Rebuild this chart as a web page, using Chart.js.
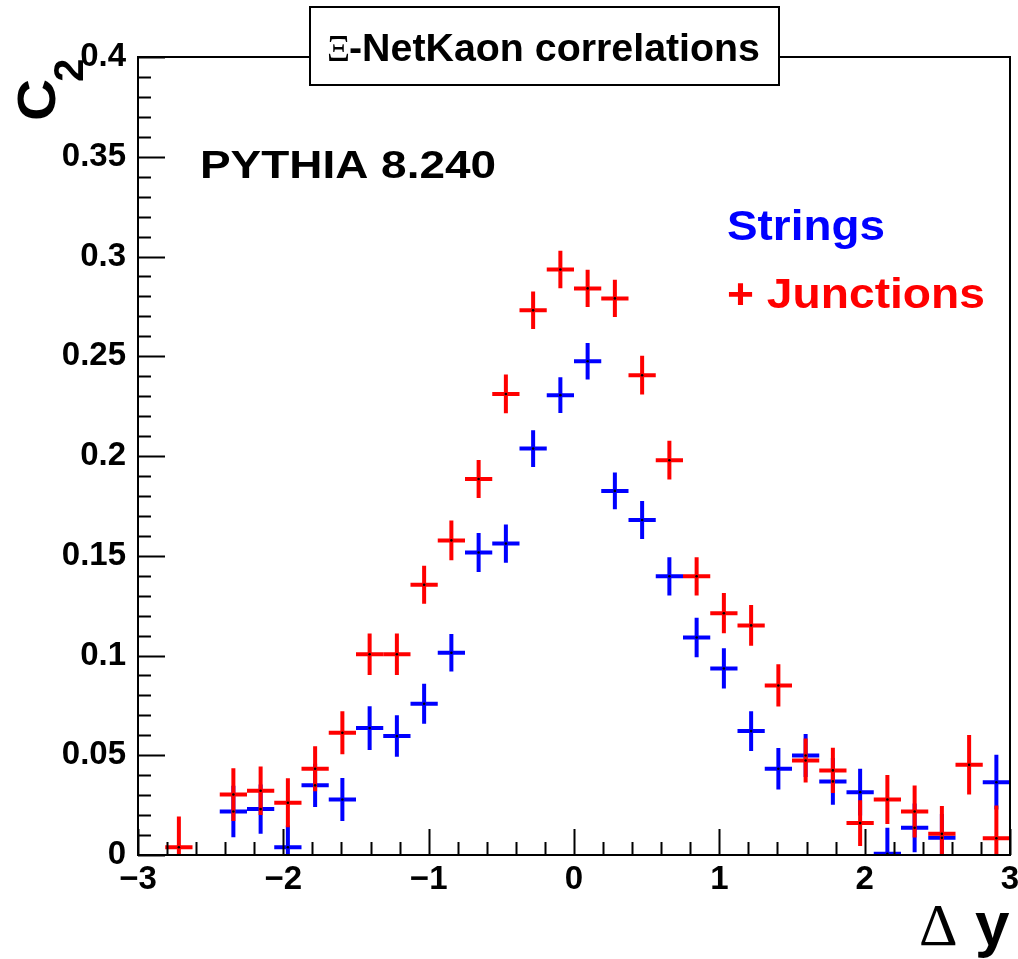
<!DOCTYPE html>
<html>
<head>
<meta charset="utf-8">
<title>Xi-NetKaon correlations</title>
<script src="https://cdn.jsdelivr.net/npm/chart.js@4.4.1/dist/chart.umd.min.js"></script>
<style>
    html, body { margin: 0; padding: 0; background: #fff; }
    canvas { display: block; }
</style>
</head>
<body>
<canvas id="c2Chart" width="1018" height="959"></canvas>
<script>
// Δy bin centres (32 bins between -3 and 3)
const binCenters = [
    -2.90625, -2.71875, -2.53125, -2.34375, -2.15625, -1.96875, -1.78125, -1.59375,
    -1.40625, -1.21875, -1.03125, -0.84375, -0.65625, -0.46875, -0.28125, -0.09375,
    0.09375, 0.28125, 0.46875, 0.65625, 0.84375, 1.03125, 1.21875, 1.40625,
    1.59375, 1.78125, 1.96875, 2.15625, 2.34375, 2.53125, 2.71875, 2.90625
];
const binHalfWidth = 0.09375;

// C2 for "Strings" (blue), null = empty bin
const stringsC2 = [
    null, null, null, 0.0218, 0.0230, 0.0039, 0.0349, 0.0278,
    0.0636, 0.0596, 0.0758, 0.1014, 0.1516, 0.1561, 0.2037, 0.2305,
    0.2475, 0.1825, 0.1679, 0.1397, 0.1090, 0.0935, 0.0621, 0.0432,
    0.0499, 0.0369, 0.0315, 0.0006, 0.0136, 0.0086, null, 0.0365
];
const stringsErr = [
    null, null, null, 0.0129, 0.0123, 0.0109, 0.0109, 0.0108,
    0.0110, 0.0104, 0.0100, 0.0094, 0.0098, 0.0096, 0.0092, 0.0090,
    0.0092, 0.0092, 0.0095, 0.0096, 0.0099, 0.0101, 0.0100, 0.0104,
    0.0108, 0.0117, 0.0117, 0.0130, 0.0122, 0.0120, null, 0.0137
];

// C2 for "Junctions" (red)
const junctionsC2 = [
    null, 0.0039, null, 0.0303, 0.0322, 0.0262, 0.0432, 0.0613,
    0.1006, 0.1006, 0.1355, 0.1577, 0.1885, 0.2311, 0.2730, 0.2935,
    0.2840, 0.2790, 0.2405, 0.1979, 0.1397, 0.1212, 0.1151, 0.0850,
    0.0474, 0.0424, 0.0160, 0.0278, 0.0218, 0.0106, 0.0452, 0.0084
];
const junctionsErr = [
    null, 0.0154, null, 0.0132, 0.0122, 0.0123, 0.0113, 0.0108,
    0.0104, 0.0104, 0.0095, 0.0100, 0.0095, 0.0097, 0.0094, 0.0094,
    0.0093, 0.0093, 0.0097, 0.0097, 0.0096, 0.0101, 0.0102, 0.0106,
    0.0110, 0.0113, 0.0115, 0.0123, 0.0130, 0.0139, 0.0149, 0.0164
];

const xTickValues = [-3, -2, -1, 0, 1, 2, 3];
const xTickLabels = ['\u22123', '\u22122', '\u22121', '0', '1', '2', '3'];
const yTickValues = [0, 0.05, 0.1, 0.15, 0.2, 0.25, 0.3, 0.35, 0.4];
const yTickLabels = ['0', '0.05', '0.1', '0.15', '0.2', '0.25', '0.3', '0.35', '0.4'];

const STRINGS_COLOR = '#0000ff';
const JUNCTIONS_COLOR = '#ff0000';
const FONT = "'Liberation Sans', Arial, sans-serif";
const SERIF = "'Liberation Serif', 'Times New Roman', serif";

function toPoints(values, errors) {
    return binCenters
        .map((x, i) => ({ x: x, y: values[i], err: errors[i] }))
        .filter(p => p.y !== null);
}

// text with optional horizontal stretch to a target width
function drawText(ctx, text, x, y, font, color, width) {
    ctx.save();
    ctx.font = font;
    ctx.fillStyle = color;
    ctx.textAlign = 'left';
    ctx.textBaseline = 'alphabetic';
    ctx.translate(x, y);
    if (width) ctx.scale(width / ctx.measureText(text).width, 1);
    ctx.fillText(text, 0, 0);
    ctx.restore();
}

// ROOT-like error crosses: horizontal = bin width, vertical = ±error
const crossesPlugin = {
    id: 'crosses',
    beforeDatasetsDraw(chart) {
        const { ctx, chartArea: a, scales: { x, y } } = chart;
        ctx.save();
        ctx.beginPath();
        ctx.rect(a.left, a.top, a.right - a.left, a.bottom - a.top);
        ctx.clip();
        ctx.lineWidth = 4;
        ctx.lineCap = 'butt';
        // blue first so red sits on top
        const order = chart.data.datasets.slice().reverse();
        order.forEach(ds => {
            ctx.strokeStyle = ds.crossColor;
            ds.data.forEach(p => {
                const px = x.getPixelForValue(p.x);
                const py = y.getPixelForValue(p.y);
                ctx.beginPath();
                ctx.moveTo(x.getPixelForValue(p.x - binHalfWidth), py);
                ctx.lineTo(x.getPixelForValue(p.x + binHalfWidth), py);
                ctx.moveTo(px, y.getPixelForValue(p.y - p.err));
                ctx.lineTo(px, y.getPixelForValue(p.y + p.err));
                ctx.stroke();
            });
        });
        ctx.restore();
    }
};

// frame, inward ticks and all the annotation texts
const framePlugin = {
    id: 'frame',
    afterDraw(chart) {
        const { ctx, chartArea: a, scales: { x, y } } = chart;
        ctx.save();
        ctx.strokeStyle = '#000';
        ctx.lineWidth = 2;
        ctx.strokeRect(a.left, a.top, a.right - a.left, a.bottom - a.top);

        ctx.beginPath();
        // y axis: major every 0.05, minor every 0.01
        for (let i = 0; i <= 40; i++) {
            const py = Math.round(y.getPixelForValue(i / 100)) + 0.5;
            const len = i % 5 === 0 ? 27 : 13;
            ctx.moveTo(a.left, py);
            ctx.lineTo(a.left + len, py);
        }
        // x axis: major every 1, minor every 0.2
        for (let i = 0; i <= 30; i++) {
            const px = Math.round(x.getPixelForValue(-3 + i * 0.2)) + 0.5;
            const len = i % 5 === 0 ? 26 : 13;
            ctx.moveTo(px, a.bottom);
            ctx.lineTo(px, a.bottom - len);
        }
        ctx.lineWidth = 2;
        ctx.stroke();

        // title box
        ctx.fillStyle = '#fff';
        ctx.fillRect(310, 7, 469, 78);
        ctx.strokeRect(310, 7, 469, 78);
        ctx.restore();

        drawText(ctx, '\u039E', 327, 61, '38px ' + SERIF, '#000', 23);
        drawText(ctx, '-NetKaon correlations', 349, 61, 'bold 39px ' + FONT, '#000', 411);

        drawText(ctx, 'PYTHIA 8.240', 200, 178, 'bold 39px ' + FONT, '#000', 296);
        drawText(ctx, 'Strings', 727, 240, 'bold 42px ' + FONT, STRINGS_COLOR, 158);
        drawText(ctx, '+ Junctions', 727, 308, 'bold 42px ' + FONT, JUNCTIONS_COLOR, 258);

        // axis titles
        drawText(ctx, '\u0394', 919, 945, '60px ' + SERIF, '#000');
        drawText(ctx, 'y', 975, 945, 'bold 62px ' + FONT, '#000');

        ctx.save();
        ctx.translate(55, 121);
        ctx.rotate(-Math.PI / 2);
        drawText(ctx, 'C', 0, 0, 'bold 53px ' + FONT, '#000', 42);
        drawText(ctx, '2', 39, 28, 'bold 42px ' + FONT, '#000');
        ctx.restore();
    }
};

new Chart(document.getElementById('c2Chart'), {
    type: 'scatter',
    data: {
        datasets: [
            {
                label: 'Junctions',
                data: toPoints(junctionsC2, junctionsErr),
                crossColor: JUNCTIONS_COLOR,
                pointRadius: 1.3,
                pointBackgroundColor: '#000',
                pointBorderWidth: 0
            },
            {
                label: 'Strings',
                data: toPoints(stringsC2, stringsErr),
                crossColor: STRINGS_COLOR,
                pointRadius: 1.3,
                pointBackgroundColor: '#000',
                pointBorderWidth: 0
            }
        ]
    },
    options: {
        responsive: false,
        animation: false,
        events: [],
        layout: { padding: { top: 57, right: 8, left: 0, bottom: 0 } },
        plugins: {
            legend: { display: false },
            tooltip: { enabled: false }
        },
        scales: {
            x: {
                type: 'linear',
                min: -3,
                max: 3,
                afterBuildTicks: s => { s.ticks = xTickValues.map(v => ({ value: v })); },
                afterFit: s => {
                    s.height = 104;
                    s.paddingLeft = 0;
                    s.paddingRight = 0;
                },
                grid: { display: false },
                border: { display: false },
                ticks: {
                    autoSkip: false,
                    maxRotation: 0,
                    padding: -3,
                    color: '#000',
                    font: { family: FONT, size: 33, weight: 'bold' },
                    callback: (v, i) => xTickLabels[i]
                }
            },
            y: {
                type: 'linear',
                min: 0,
                max: 0.4,
                afterBuildTicks: s => { s.ticks = yTickValues.map(v => ({ value: v })); },
                afterFit: s => {
                    s.width = 138;
                    s.paddingTop = 0;
                    s.paddingBottom = 0;
                },
                grid: { display: false },
                border: { display: false },
                ticks: {
                    autoSkip: false,
                    padding: 4,
                    color: '#000',
                    font: { family: FONT, size: 33, weight: 'bold' },
                    callback: (v, i) => yTickLabels[i]
                }
            }
        }
    },
    plugins: [crossesPlugin, framePlugin]
});
</script>
</body>
</html>
